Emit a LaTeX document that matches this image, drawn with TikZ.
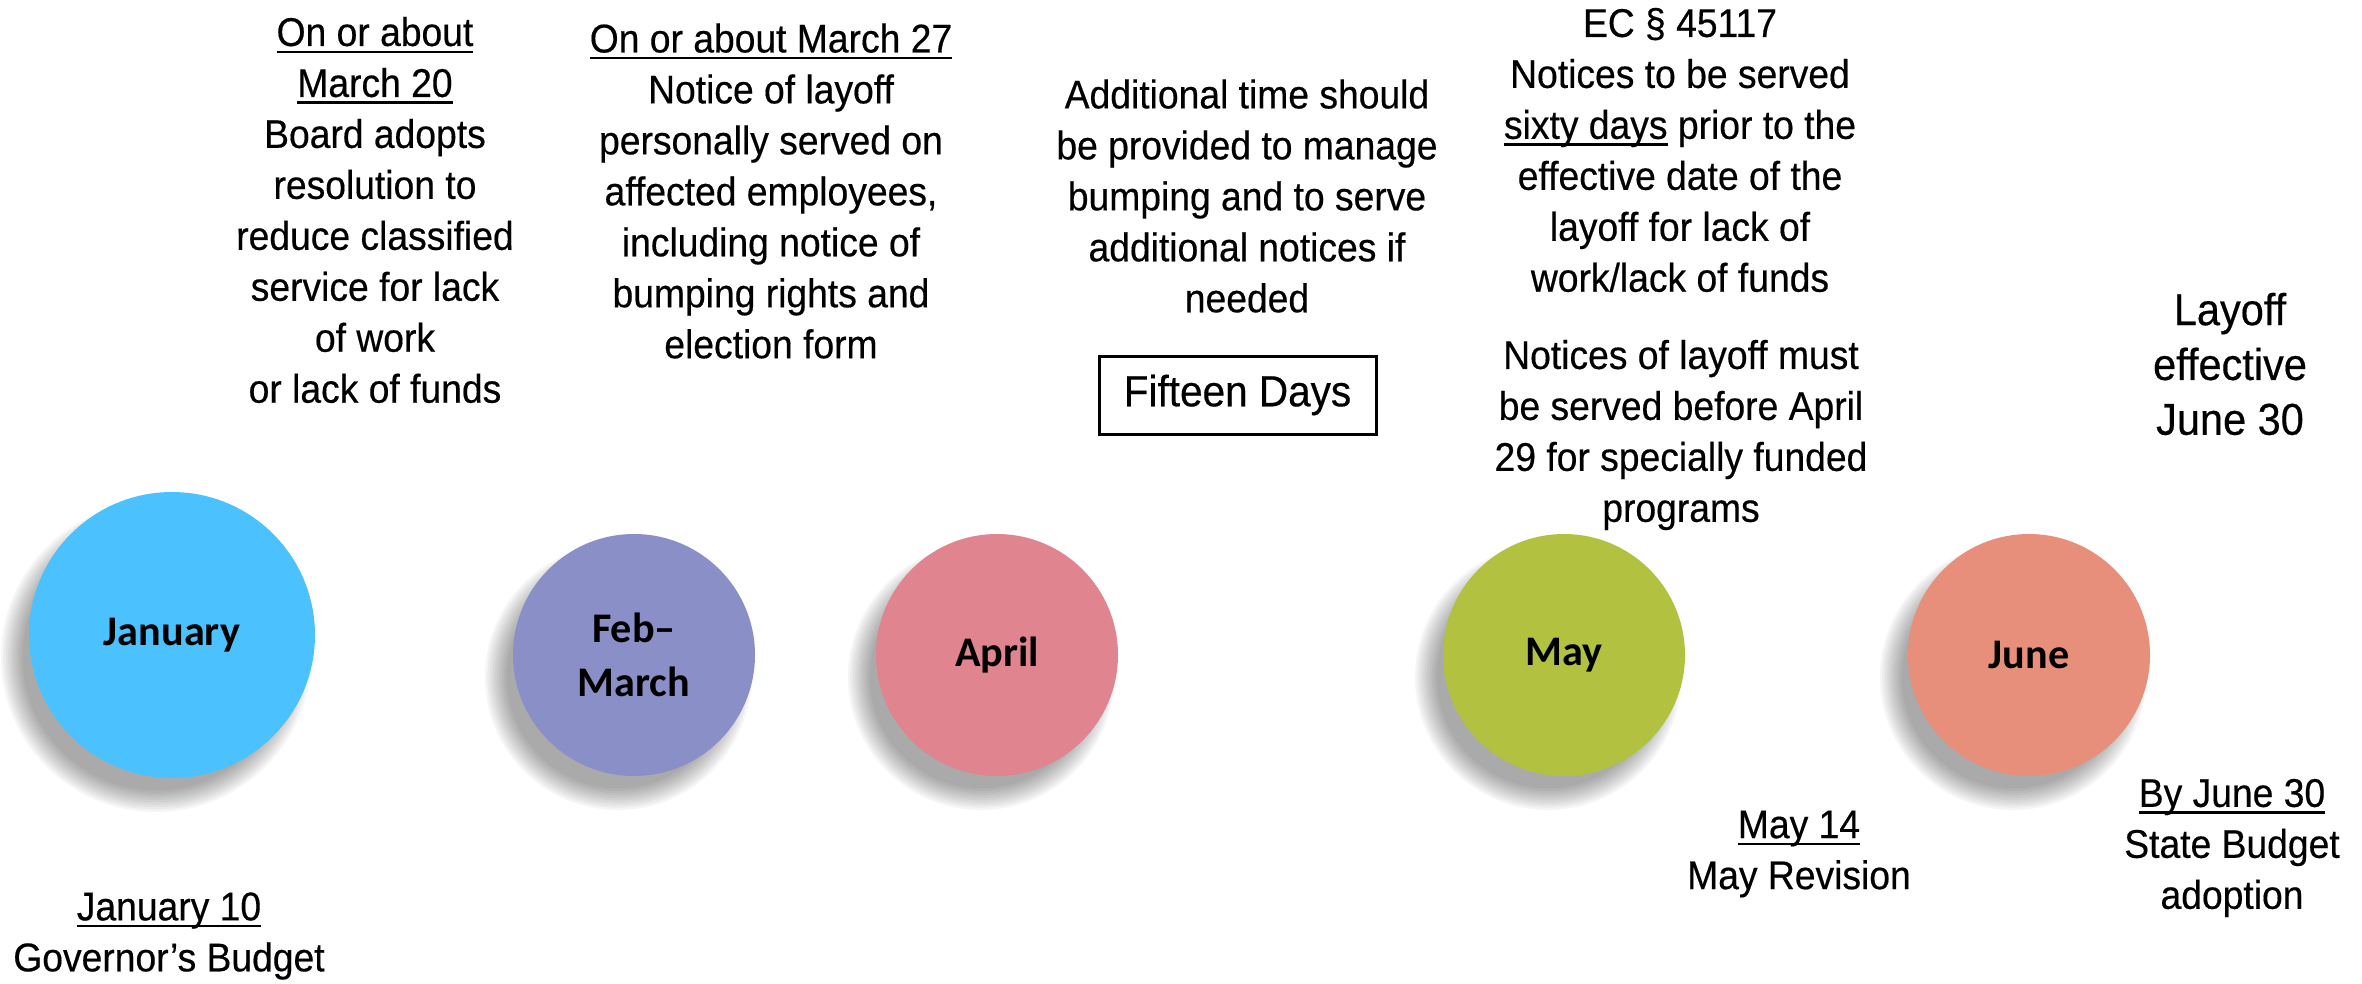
\documentclass[tikz,border=0pt]{standalone}
\usepackage{fontspec}
\setmainfont[FakeStretch=0.93,FakeBold=0.4]{Liberation Sans}
\newfontfamily\monthfont{Carlito}
\usetikzlibrary{positioning}

\definecolor{janblue}{RGB}{75,194,253}
\definecolor{febpurple}{RGB}{139,143,200}
\definecolor{aprrose}{RGB}{224,132,143}
\definecolor{maygreen}{RGB}{178,194,64}
\definecolor{junsalmon}{RGB}{231,143,122}

% underline that runs through descenders
\newsavebox{\undlbox}
\newcommand{\undl}[1]{\sbox\undlbox{#1}\rlap{\vrule width\wd\undlbox height -1.3pt depth 1.9pt}\usebox\undlbox}

\begin{document}
\begin{tikzpicture}[x=0.1mm, y=-0.1mm,
month/.style={circle, inner sep=0pt, minimum size=24.2mm, align=center,
  font=\monthfont\bfseries\fontsize{12}{15.5}\selectfont},
note/.style={align=center, inner sep=0pt, font=\fontsize{11.4}{14.5}\selectfont},
bignote/.style={align=center, inner sep=0pt, font=\fontsize{12.7}{15.6}\selectfont},
daybox/.style={draw, line width=0.85pt, minimum width=27.7mm, minimum height=7.8mm,
  font=\fontsize{12.4}{14}\selectfont}
]
\useasboundingbox (0,0) rectangle (2362,983);

% soft shadows under the month discs
\foreach \cx/\cy/\r in {172/635/143, 634/655/121, 997/655/121, 1564/655/121, 2029/655/121}
  \foreach \i in {0,...,9}
    \fill[black, opacity=0.04] (\cx-16,\cy+22) circle[radius={(\r+12-2.4*\i)*0.28453pt}];

% months
\node[month, fill=janblue, minimum size=28.6mm] (jan) at (172,635) {\raisebox{-1pt}{January}};
\node[month, fill=febpurple] (febmar) at (634,655) {Feb–\\March};
\node[month, fill=aprrose] (apr) at (997,655) {April};
\node[month, fill=maygreen] (may) at (1564,655) {\raisebox{-1pt}{May}};
\node[month, fill=junsalmon] (jun) at (2029,655) {June};

% notes above the timeline
\node[note] (boardnote) at (375,210) {\undl{On or about}\\\undl{March 20}\\Board adopts\\resolution to\\reduce classified\\service for lack\\of work\\or lack of funds};
\node[note] (noticenote) at (771,191) {\undl{On or about March 27}\\Notice of layoff\\personally served on\\affected employees,\\including notice of\\bumping rights and\\election form};
\node[note] (bumpnote) at (1247,196) {Additional time should\\be provided to manage\\bumping and to serve\\additional notices if\\needed};
\node[daybox] (daysbox) at (1237.5,395) {Fifteen Days};
\node[note] (ecnote) at (1680,150) {EC § 45117\\Notices to be served\\\undl{sixty days} prior to the\\effective date of the\\layoff for lack of\\work/lack of funds};
\node[note] (fundnote) at (1681,435) {Notices of layoff must\\be served before April\\29 for specially funded\\programs};
\node[bignote] (effnote) at (2230,364) {Layoff\\effective\\June 30};

% notes below the timeline
\node[note] (govnote) at (169,936) {\undl{January 10}\\Governor’s Budget};
\node[note] (revnote) at (1799,854) {\undl{May 14}\\May Revision};
\node[note] (statenote) at (2232,848) {\undl{By June 30}\\State Budget\\adoption};
\end{tikzpicture}
\end{document}
